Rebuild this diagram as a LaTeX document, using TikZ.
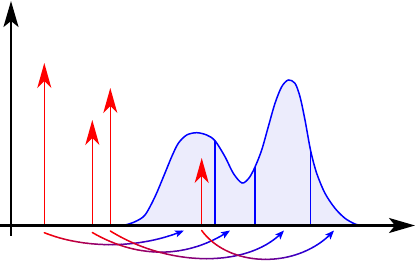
\documentclass[tikz,border=0pt]{standalone}
\usetikzlibrary{arrows.meta}
\definecolor{lav}{RGB}{236,236,252}
\tikzset{
  axisline/.style={black, line width=2.4pt, -{Stealth[length=26pt,width=15pt,inset=6pt]}},
  spike/.style={red, line width=1.5pt, -{Stealth[length=25pt,width=14pt,inset=7pt]}},
  curveline/.style={blue, line width=1.5pt},
  arcseg/.style={line width=1.5pt, line cap=round},
  arctip/.style={blue, line width=1.5pt, -{Stealth[length=9pt,width=7pt,inset=2pt]}}
}
\newcommand{\gradarc}[8]{%
  \foreach \k in {0,...,31}{%
    \pgfmathsetmacro\ta{\k*0.94/32}%
    \pgfmathsetmacro\tb{(\k+1)*0.94/32}%
    \pgfmathtruncatemacro\pc{100-100*(\k+0.5)/32}%
    \draw[arcseg, color=red!\pc!blue] plot[domain=\ta:\tb, samples=3, variable=\t]
      ({(1-\t)^3*#1+3*(1-\t)^2*\t*#3+3*(1-\t)*\t^2*#5+\t^3*#7},
       {(1-\t)^3*#2+3*(1-\t)^2*\t*#4+3*(1-\t)*\t^2*#6+\t^3*#8});
  }%
  \draw[arctip] plot[domain=0.94:1, samples=5, variable=\t]
      ({(1-\t)^3*#1+3*(1-\t)^2*\t*#3+3*(1-\t)*\t^2*#5+\t^3*#7},
       {(1-\t)^3*#2+3*(1-\t)^2*\t*#4+3*(1-\t)*\t^2*#6+\t^3*#8});
}
\begin{document}
\begin{tikzpicture}[x=1pt,y=-1pt]
\useasboundingbox (0,0) rectangle (415,261);
% density
\fill[lav] plot[smooth] coordinates {(118,225.5) (125,225) (135,221.7) (145,215) (155,196.7) (165,173) (171.7,156.7) (178.3,143.3) (186.7,135) (196.7,132.7) (206.7,135) (215,140.7) (225,156.7) (233.3,173.3) (242,183) (249,178) (255,167) (261.7,150) (268.3,126.7) (275,103.3) (281.7,86.7) (288.3,80) (295,83.3) (300,96.7) (305,120) (310.7,151) (316.7,173.3) (325,193.3) (335,208.3) (345,218.3) (355,224) (362,225.5)} -- cycle;
\draw[curveline] plot[smooth] coordinates {(118,225.5) (125,225) (135,221.7) (145,215) (155,196.7) (165,173) (171.7,156.7) (178.3,143.3) (186.7,135) (196.7,132.7) (206.7,135) (215,140.7) (225,156.7) (233.3,173.3) (242,183) (249,178) (255,167) (261.7,150) (268.3,126.7) (275,103.3) (281.7,86.7) (288.3,80) (295,83.3) (300,96.7) (305,120) (310.7,151) (316.7,173.3) (325,193.3) (335,208.3) (345,218.3) (355,224) (362,225.5)};
% vertical sample lines
\coordinate (v1b) at (215,225.5); \coordinate (v1t) at (215,140.7);
\coordinate (v2b) at (255,225.5); \coordinate (v2t) at (255,167);
\coordinate (v3b) at (310.7,225.5); \coordinate (v3t) at (310.7,151);
\draw[curveline] (v1b) -- (v1t);
\draw[curveline] (v2b) -- (v2t);
\draw[curveline] (v3b) -- (v3t);
% red spikes
\coordinate (r1b) at (44.3,225.5); \coordinate (r1t) at (44.3,63);
\coordinate (r2b) at (92.3,225.5); \coordinate (r2t) at (92.3,120);
\coordinate (r3b) at (110.3,225.5); \coordinate (r3t) at (110.3,88);
\coordinate (r4b) at (201.7,225.5); \coordinate (r4t) at (201.7,158);
\draw[spike] (r1b) -- (r1t);
\draw[spike] (r2b) -- (r2t);
\draw[spike] (r3b) -- (r3t);
\draw[spike] (r4b) -- (r4t);
% axes
\coordinate (xs) at (0,225.5); \coordinate (xe) at (415,225.5);
\coordinate (ys) at (11,236); \coordinate (ye) at (11,1);
\draw[axisline] (xs) -- (xe);
\draw[axisline] (ys) -- (ye);
% transport arcs
\gradarc{44.3}{232.7}{85}{249}{140}{249}{184}{230.5}
\gradarc{92.3}{232.5}{138}{259}{187}{259}{230}{230.5}
\gradarc{110.3}{231}{170}{268}{250}{268}{284}{230.5}
\gradarc{201.7}{230.5}{230}{269}{300}{269}{334}{230.5}
\end{tikzpicture}
\end{document}
